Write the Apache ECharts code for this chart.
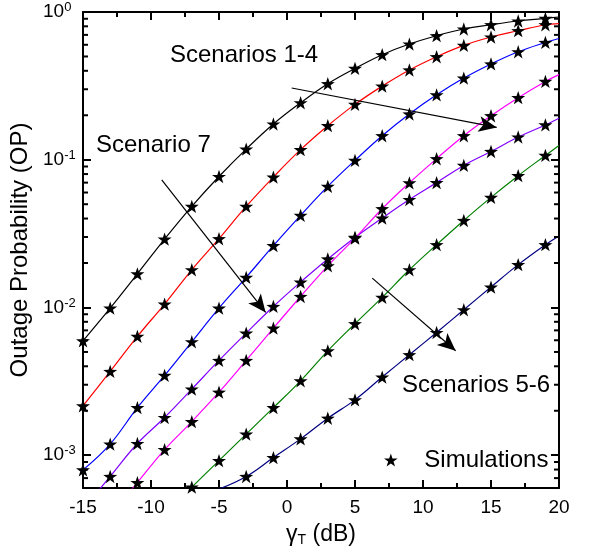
<!DOCTYPE html>
<html><head><meta charset="utf-8">
<script src="https://cdn.jsdelivr.net/npm/echarts@6/dist/echarts.min.js"></script>
<style>html,body{margin:0;padding:0;background:#fff}#c{width:593px;height:556px}</style>
</head><body><div id="c"></div>
<script>
// ---- data ----
const xSim = [-15,-13,-11,-9,-7,-5,-3,-1,1,3,5,7,9,11,13,15,17,19];
const xEnd = 20;
const sBlack   = [5.95e-3,9.9e-3,1.69e-2,2.9e-2,4.83e-2,7.7e-2,0.118,0.1745,0.243,0.327,0.415,0.514,0.607,0.691,0.767,0.82,0.869,0.905];
const sRed     = [2.16e-3,3.69e-3,6.37e-3,1.055e-2,1.8e-2,2.92e-2,4.83e-2,7.63e-2,0.117,0.17,0.237,0.315,0.405,0.498,0.594,0.677,0.747,0.82];
const sBlue    = [7.96e-4,1.19e-3,2.1e-3,3.47e-3,5.86e-3,9.9e-3,1.6e-2,2.62e-2,4.2e-2,0.066,0.099,0.1454,0.204,0.275,0.357,0.445,0.538,0.622];
const sPurple  = [4.3e-4,7.18e-4,1.2e-3,1.8e-3,2.8e-3,4.38e-3,6.71e-3,1.016e-2,1.486e-2,2.13e-2,2.98e-2,4.03e-2,5.38e-2,7.0e-2,0.0915,0.1137,0.1425,0.172];
const sMagenta = [null,3.9e-4,6.53e-4,1.09e-3,1.69e-3,2.67e-3,4.38e-3,7.25e-3,1.187e-2,1.915e-2,2.95e-2,4.66e-2,6.98e-2,0.1016,0.1454,0.1985,0.263,0.339];
const sGreen   = [null,null,null,4.0e-4,6.08e-4,9.2e-4,1.39e-3,2.1e-3,3.19e-3,5.09e-3,7.76e-3,1.17e-2,1.8e-2,2.66e-2,3.88e-2,5.56e-2,7.8e-2,0.107];
const sNavy    = [null,null,null,null,null,5.9e-4,7.18e-4,9.64e-4,1.29e-3,1.78e-3,2.37e-3,3.38e-3,4.79e-3,6.77e-3,9.65e-3,1.375e-2,1.95e-2,2.66e-2];
const endVals  = [0.925,0.835,0.662,0.191,0.377,0.125,0.0305]; // values at x = 20
const yMinorTicks = [7e-4,8e-4,9e-4,2e-3,3e-3,4e-3,5e-3,6e-3,7e-3,8e-3,9e-3,
  2e-2,3e-2,4e-2,5e-2,6e-2,7e-2,8e-2,9e-2,0.2,0.3,0.4,0.5,0.6,0.7,0.8,0.9];

const curves = [sBlack,sRed,sBlue,sPurple,sMagenta,sGreen,sNavy];
const colors = ['#000000','#ff0000','#0000ff','#8000ff','#ff00ff','#008000','#000080'];
const STAR = 'path://M50,0 L61.8,35.1 L98.9,35.5 L69.1,57.6 L80.2,93 L50,71.5 L19.8,93 L30.9,57.6 L1.1,35.5 L38.2,35.1 Z';
const FONT = '"Liberation Sans", Arial, sans-serif';

const chart = echarts.init(document.getElementById('c'), null, {renderer:'canvas'});

const lineSeries = curves.map((arr, i) => ({
  type: 'line',
  data: xSim.map((x, k) => [x, arr[k]]).concat([[xEnd, endVals[i]]]),
  showSymbol: false,
  smooth: 0.4,
  lineStyle: {color: colors[i], width: 1.2},
  itemStyle: {color: colors[i]},
  z: 3,
  silent: true
}));

// arrows attached to the black curve (data coordinates)
lineSeries[0].markLine = {
  silent: true, animation: false,
  symbol: ['none', 'arrow'], symbolSize: [12, 18],
  label: {show: false},
  lineStyle: {color: '#000', width: 1.2, type: 'solid'},
  emphasis: {disabled: true},
  data: [
    [{coord: [0.345, 0.306]}, {coord: [15.42, 0.1655]}],
    [{coord: [-9.21, 0.0732]}, {coord: [-1.57, 9.25e-3]}],
    [{coord: [6.27, 0.0158]}, {coord: [12.4, 5.09e-3]}]
  ]
};

const simData = [];
curves.forEach(arr => xSim.forEach((x, k) => { if (arr[k] != null) simData.push([x, arr[k]]); }));

const supLabel = v => {
  const e = Math.log10(v); const r = Math.round(e);
  if (Math.abs(e - r) > 1e-6) return '';
  return '{b|10}{s|' + r + '}';
};

const axisCommon = {
  axisLine: {show: true, onZero: false, lineStyle: {color: '#000', width: 2}},
  splitLine: {show: false}
};

const option = {
  animation: false,
  backgroundColor: '#fff',
  textStyle: {fontFamily: FONT},
  grid: {left: 83, right: 34, top: 12, bottom: 68, containLabel: false},
  xAxis: [
    Object.assign({}, axisCommon, {
      type: 'value', min: -15, max: 20, interval: 5, position: 'bottom',
      axisTick: {show: true, inside: true, length: 8, lineStyle: {color: '#000', width: 2}},
      minorTick: {show: true, splitNumber: 2, length: 5, lineStyle: {color: '#000', width: 2}},
      axisLabel: {color: '#000', fontSize: 19, margin: 10, fontFamily: FONT},
      name: '{g|γ}{t|T}{g| (dB)}', nameLocation: 'middle', nameGap: 35,
      nameTextStyle: {rich: {g: {fontSize: 23, color: '#000', fontFamily: FONT}, t: {fontSize: 14, color: '#000', fontFamily: FONT, padding: [10, 0, 0, 0]}}}
    }),
    Object.assign({}, axisCommon, {
      type: 'value', min: -15, max: 20, interval: 5, position: 'top',
      axisTick: {show: true, inside: true, length: 8, lineStyle: {color: '#000', width: 2}},
      minorTick: {show: true, splitNumber: 2, length: 5, lineStyle: {color: '#000', width: 2}},
      axisLabel: {show: false}
    })
  ],
  yAxis: [
    Object.assign({}, axisCommon, {
      type: 'log', logBase: 10, min: 0.0006, max: 1, position: 'left',
      axisTick: {show: true, inside: true, length: 8, lineStyle: {color: '#000', width: 2}},
      axisLabel: {
        formatter: supLabel, align: 'left', margin: 40,
        rich: {
          b: {fontSize: 19, color: '#000', fontFamily: FONT, lineHeight: 22},
          s: {fontSize: 13, color: '#000', fontFamily: FONT, verticalAlign: 'top', lineHeight: 13}
        }
      },
      name: 'Outage Probability (OP)', nameLocation: 'middle', nameGap: 46,
      nameTextStyle: {fontSize: 24, color: '#000', fontFamily: FONT}
    }),
    Object.assign({}, axisCommon, {
      type: 'log', logBase: 10, min: 0.0006, max: 1, position: 'right',
      axisTick: {show: true, inside: true, length: 8, lineStyle: {color: '#000', width: 2}},
      axisLabel: {show: false}
    })
  ],
  legend: {
    data: ['Simulations'], left: 379, top: 443, orient: 'vertical',
    icon: STAR, itemWidth: 57, itemHeight: 13, itemGap: 0,
    itemStyle: {opacity: 1},
    textStyle: {fontSize: 24, color: '#000', fontFamily: FONT},
    selectedMode: false
  },
  graphic: [
    {type: 'text', left: 170, top: 43, style: {text: 'Scenarios 1-4', fontSize: 24, fontFamily: FONT, fill: '#000'}},
    {type: 'text', left: 96, top: 133, style: {text: 'Scenario 7', fontSize: 24, fontFamily: FONT, fill: '#000'}},
    {type: 'text', left: 402, top: 373, style: {text: 'Scenarios 5-6', fontSize: 24, fontFamily: FONT, fill: '#000'}}
  ],
  series: lineSeries.concat([
    {
      name: 'Simulations', type: 'scatter', data: simData,
      symbol: STAR, symbolSize: 14, symbolKeepAspect: true,
      itemStyle: {color: '#000', opacity: 1}, z: 5, silent: true
    },
    {
      type: 'custom', silent: true, clip: false, z: 6,
      data: yMinorTicks.map(v => [-15, v]),
      encode: {x: 0, y: 1},
      renderItem: (params, api) => {
        const v = api.value(1);
        const a = api.coord([-15, v]);
        const b = api.coord([20, v]);
        return {type: 'group', children: [
          {type: 'line', shape: {x1: a[0], y1: a[1], x2: a[0] + 5, y2: a[1]}, style: {stroke: '#000', lineWidth: 2}},
          {type: 'line', shape: {x1: b[0] - 5, y1: b[1], x2: b[0], y2: b[1]}, style: {stroke: '#000', lineWidth: 2}}
        ]};
      }
    }
  ])
};
chart.setOption(option);
</script>
</body></html>
